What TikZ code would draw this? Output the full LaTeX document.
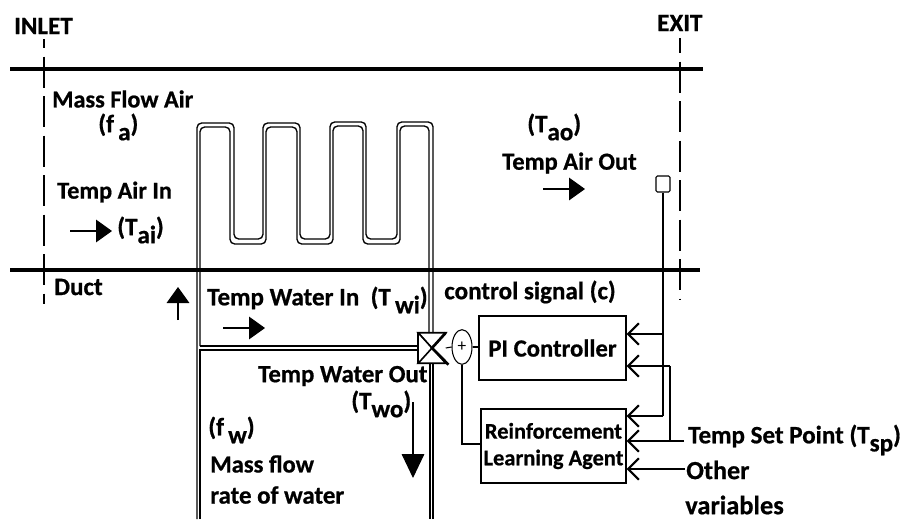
\documentclass[tikz,border=0pt]{standalone}
\usepackage{fontspec}
\setmainfont[BoldFeatures={FakeBold=0.7}]{Carlito}
\usetikzlibrary{arrows.meta,shapes.geometric}
\newcommand{\lowsub}[1]{\raisebox{-0.32em}{#1}}
\newcommand{\fsz}[1]{\fontsize{#1}{#1}\selectfont\bfseries}
\tikzset{
  x=0.75pt,y=-0.75pt,
  lbl/.style={anchor=west,inner sep=0pt,font=\fsz{18.8}},
  duct/.style={line width=2.4pt},
  flowdash/.style={line width=2.1pt,dash pattern=on 23.25pt off 6.4pt},
  pipe/.style={line width=1pt,rounded corners=3.5pt},
  solidhead/.style={line width=0.8pt,-{Triangle[length=12pt,width=17pt]}},
  barb/.style={line width=0.8pt,-{Straight Barb[length=8pt,width=16pt,line width=1.6pt]}},
  wire/.style={line width=0.8pt},
  ctrlbox/.style={draw,line width=1pt,inner sep=0pt,align=center},
}
\begin{document}
\begin{tikzpicture}
\useasboundingbox (0,0) rectangle (907,519);
% duct
\coordinate (dtl) at (10,69); \coordinate (dtr) at (703,69);
\coordinate (dbl) at (10,270); \coordinate (dbr) at (700,270);
\draw[duct] (dtl) -- (dtr);
\draw[duct] (dbl) -- (dbr);
\coordinate (in1) at (44,39); \coordinate (in2) at (44,304);
\coordinate (ex1) at (680,38); \coordinate (ex2) at (680,300);
\draw[flowdash,dash phase=16.5pt] (in1) -- (in2);
\draw[flowdash,dash phase=12pt] (ex1) -- (ex2);
% coil (two parallel lines forming the tube)
\draw[pipe] (197,519) -- (197,123) -- (234,123) -- (234,239) -- (263,239) -- (263,123) -- (300,123) -- (300,239) -- (330,239) -- (330,122) -- (366,122) -- (366,239) -- (397,239) -- (397,122) -- (433,122) -- (433,333);
\draw[pipe] (200,346) -- (200,127) -- (230,127) -- (230,244) -- (266,244) -- (266,127) -- (297,127) -- (297,244) -- (333,244) -- (333,126) -- (363,126) -- (363,244) -- (400,244) -- (400,126) -- (429,126) -- (429,333);
\draw[line width=1pt] (200,519) -- (200,350) -- (418,350);
\draw[line width=1pt] (200,346) -- (418,346);
\draw[line width=1.3pt] (430,363) -- (430,519);
\draw[line width=0.9pt] (433,363) -- (433,519);
% valve
\node[minimum width=20.25pt,minimum height=22.5pt,inner sep=0pt] (valve) at (432,348) {};
\draw[line width=1.2pt] (valve.north west) -- (valve.north east) -- (valve.south west) -- (valve.south east) -- cycle;
\draw[line width=1.2pt] (valve.north west) -- (valve.south west);
\draw[line width=2pt] (valve.north east) -- (valve.center) -- ([xshift=2pt,yshift=-1pt]valve.south east);
\draw[line width=0.9pt] (valve.north west) -- (valve.center);
% summing junction
\node[ellipse,draw,line width=0.8pt,minimum width=15pt,minimum height=26pt,inner sep=0pt,font=\fontsize{13}{13}\selectfont] (sum) at (462,347) {+};
% boxes
\node[ctrlbox,minimum width=110.25pt,minimum height=48pt,font=\fsz{18.5}] (pi) at (552.5,348) {PI Controller};
\node[ctrlbox,minimum width=108.75pt,minimum height=55.5pt,font=\fontsize{16.8}{20}\selectfont\bfseries] (rl) at (553.5,446) {Reinforcement\\Learning Agent};
% sensor
\node[draw,line width=0.8pt,minimum width=10.5pt,minimum height=12pt,inner sep=0pt,rounded corners=1pt] (sensor) at (663,184) {};
% control wiring
\draw[wire] (valve.east) -- (sum.west);
\draw[wire] (sum.east) -- (pi.west|-sum.east);
\coordinate (rlin) at (462,444);
\draw[wire] (sum.south) -- (rlin) -- (rl.west|-rlin);
\coordinate (s1) at (663,334); \coordinate (s2) at (663,416);
\draw[wire] (sensor.south) -- (s2);
\draw[barb] (s1) -- (pi.east|-s1);
\draw[barb] (s2) -- (rl.east|-s2);
\coordinate (sp1) at (670,441); \coordinate (sp2) at (670,366); \coordinate (spe) at (684,441);
\draw[barb] (spe) -- (rl.east|-spe);
\draw[wire] (sp1) -- (sp2);
\draw[barb] (sp2) -- (pi.east|-sp2);
\coordinate (ot) at (685,469);
\draw[barb] (ot) -- (rl.east|-ot);
% flow arrows
\coordinate (a1s) at (70,231); \coordinate (a1e) at (112,231);
\draw[solidhead] (a1s) -- (a1e);
\coordinate (a2s) at (543,189); \coordinate (a2e) at (585,189);
\draw[solidhead] (a2s) -- (a2e);
\coordinate (a3s) at (223,328); \coordinate (a3e) at (265,328);
\draw[solidhead] (a3s) -- (a3e);
\coordinate (a4s) at (178,320); \coordinate (a4e) at (178,287);
\draw[solidhead] (a4s) -- (a4e);
\coordinate (a5s) at (413,402); \coordinate (a5e) at (413,478);
\draw[solidhead,-{Triangle[length=18pt,width=17pt]}] (a5s) -- (a5e);
% labels
\node[lbl] (tinlet) at (14,26) {INLET};
\node[lbl] (texit) at (657,23) {EXIT};
\node[lbl,font=\fsz{18.2}] (tmfa) at (52,99) {Mass Flow Air};
\node[lbl] (tfa) at (98,127) {(f\,\lowsub{a})};
\node[lbl,font=\fsz{18.2}] (ttai) at (57,192) {Temp Air In};
\node[lbl] (tai) at (117,230) {(T\lowsub{ai})};
\node[lbl] (tduct) at (54,287) {Duct};
\node[lbl] (tao) at (527,127) {(T\lowsub{ao})};
\node[lbl,font=\fsz{18.4}] (ttao) at (502,163) {Temp Air Out};
\node[lbl] (twi) at (207,300) {Temp Water In\ \ (T\,\lowsub{wi})};
\node[lbl,font=\fsz{18.6}] (ttwo) at (258,376) {Temp Water Out};
\node[lbl] (two) at (351,404) {(T\lowsub{wo})};
\node[lbl] (tfw) at (208,430) {(f\,\lowsub{w})};
\node[lbl,font=\fsz{18.4}] (tmf) at (210,464) {Mass flow};
\node[lbl,font=\fsz{18.7}] (trw) at (210,495) {rate of water};
\node[lbl] (tcs) at (444,292) {control signal (c)};
\node[lbl] (tsp) at (688,440) {Temp Set Point (T\lowsub{sp})};
\node[lbl,font=\fsz{19.6}] (tot) at (686,470) {Other};
\node[lbl,font=\fsz{19.8}] (tvar) at (685,505) {variables};
\end{tikzpicture}
\end{document}
